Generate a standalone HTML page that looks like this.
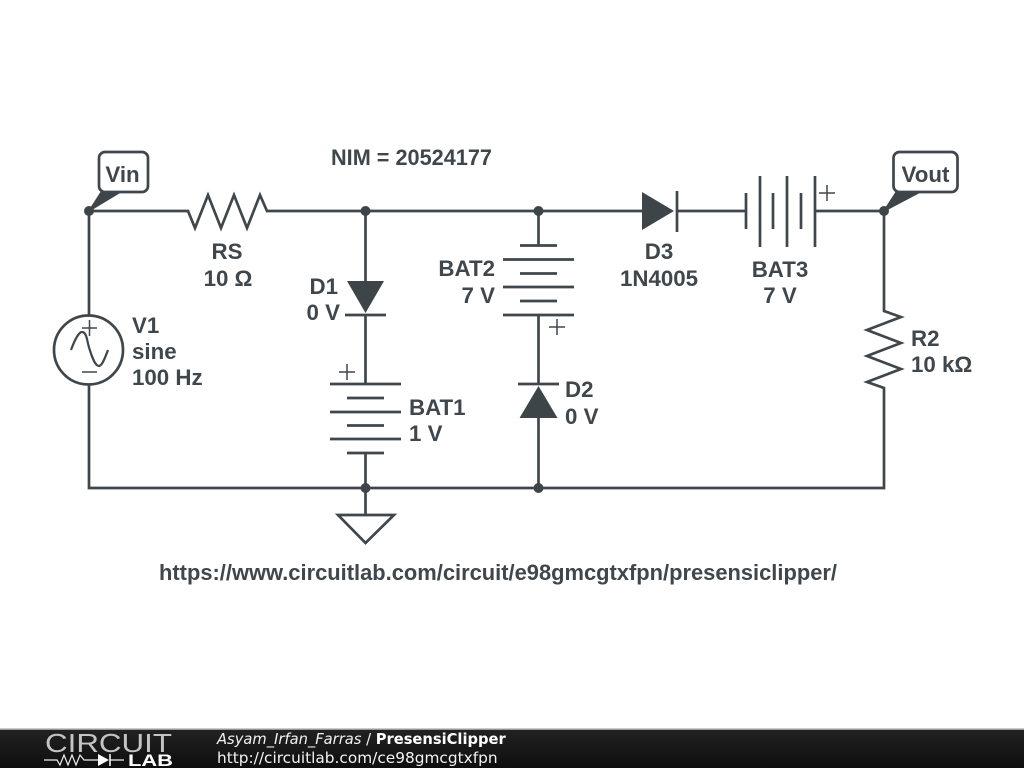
<!DOCTYPE html>
<html>
<head>
<meta charset="utf-8">
<style>
html,body{margin:0;padding:0;background:#fff;width:1024px;height:768px;overflow:hidden}
svg{display:block}
.t{font-family:"Liberation Sans",sans-serif;font-weight:bold;font-size:22.3px;fill:#3f474c}
.w{fill:none;stroke:#3f474c;stroke-width:2.7}
.p{fill:none;stroke:#3f474c;stroke-width:1.5}
.f{fill:#3d4549}
.d{font-family:"DejaVu Sans",sans-serif;font-size:14.7px;fill:#f2f2f2}
</style>
</head>
<body>
<svg width="1024" height="768" viewBox="0 0 1024 768" xmlns="http://www.w3.org/2000/svg">
<defs>
<linearGradient id="g" x1="0" y1="0" x2="0" y2="1"><stop offset="0" stop-color="#222"/><stop offset="1" stop-color="#0e0e0e"/></linearGradient>
</defs>
<rect width="1024" height="768" fill="#fff"/>

<!-- wires -->
<path class="w" d="M89 211H188L195 228 208 195 221 228 234 195 247 228 260 195 267 211H642"/>
<path class="w" d="M677 211H746M815 211H884"/>
<path class="w" d="M89 211V315M89 385V488H884V388L867 382 901 369 867 356 901 343 867 330 901 317 884 311V211"/>

<!-- V1 -->
<circle class="w" cx="88.5" cy="350" r="34.5"/>
<path class="p" d="M82 328H97M89.500 320V336M82 372H97"/>
<path d="M71 350C75 339 79 332 82 332C87 332 87 342 89.500 349C92 357 95 366 99 366C102 366 105 358 108 350" fill="none" stroke="#3f474c" stroke-width="2.2"/>

<!-- D1 + BAT1 + GND -->
<path class="w" d="M365.5 211V281M365.5 315V384M345 315H386"/>
<polygon class="f" points="347,281 384,281 365.5,313"/>
<path class="w" d="M330 384H401M347 398H384M330 412H401M347 425.500H384M330 439H401M347 453H384M365.500 453V515"/>
<path class="w" d="M338 515H394L365.500 543Z"/>
<path class="p" d="M339 372H355M347 364V380"/>

<!-- BAT2 + D2 -->
<path class="w" d="M538.500 211V245.500M520 245.500H557M503 259.500H574M520 273.500H557M503 287H574M520 301H557M503 315H574M538.500 315V384M518 384H559M538.500 418V488"/>
<polygon class="f" points="538.500,386 519.500,418 557.500,418"/>
<path class="p" d="M549 327H565M557 319V335"/>

<!-- D3 -->
<polygon class="f" points="642,192 642,230 674,211"/>
<path class="w" d="M677 191V232"/>

<!-- BAT3 -->
<path class="w" d="M746 193V229M760 176V247M773 193V229M787 176V247M801 193V229M815 176V247"/>
<path class="p" d="M819 193H835M827 185V201"/>

<!-- nodes -->
<circle class="f" cx="89" cy="211" r="5"/>
<circle class="f" cx="365.500" cy="211" r="5"/>
<circle class="f" cx="538.500" cy="211" r="5"/>
<circle class="f" cx="884" cy="211" r="5"/>
<circle class="f" cx="365.500" cy="488" r="5"/>
<circle class="f" cx="538.500" cy="488" r="5"/>

<!-- probes -->
<polygon class="f" stroke="#3d4549" stroke-width="1.500" points="89,211 102,191 122,191"/>
<rect class="w" x="99" y="152" width="49" height="40" rx="6" style="fill:#fff"/>
<polygon class="f" stroke="#3d4549" stroke-width="1.500" points="884,211 897,191 922,191"/>
<rect class="w" x="893.500" y="152" width="64" height="40" rx="6" style="fill:#fff"/>

<!-- labels -->
<text class="t" x="122.500" y="182" text-anchor="middle">Vin</text>
<text class="t" x="925.500" y="182" text-anchor="middle">Vout</text>
<text class="t" x="331" y="165" textLength="161" lengthAdjust="spacingAndGlyphs">NIM = 20524177</text>
<text class="t" x="227" y="259" text-anchor="middle">RS</text>
<text class="t" x="228" y="286" text-anchor="middle">10 Ω</text>
<text class="t" x="132" y="333">V1</text>
<text class="t" x="132" y="359">sine</text>
<text class="t" x="132" y="385">100 Hz</text>
<text class="t" x="338" y="294" text-anchor="end">D1</text>
<text class="t" x="340" y="320" text-anchor="end">0 V</text>
<text class="t" x="409" y="415">BAT1</text>
<text class="t" x="409" y="441">1 V</text>
<text class="t" x="495" y="276" text-anchor="end">BAT2</text>
<text class="t" x="495" y="303" text-anchor="end">7 V</text>
<text class="t" x="565" y="397">D2</text>
<text class="t" x="565" y="424">0 V</text>
<text class="t" x="659" y="259" text-anchor="middle">D3</text>
<text class="t" x="659" y="286" text-anchor="middle">1N4005</text>
<text class="t" x="780" y="277" text-anchor="middle">BAT3</text>
<text class="t" x="780" y="303" text-anchor="middle">7 V</text>
<text class="t" x="911" y="346">R2</text>
<text class="t" x="911" y="372">10 kΩ</text>
<text class="t" x="159" y="580" textLength="678" lengthAdjust="spacingAndGlyphs">https://www.circuitlab.com/circuit/e98gmcgtxfpn/presensiclipper/</text>

<!-- footer -->
<rect x="0" y="729" width="1024" height="39" fill="url(#g)"/>
<rect x="0" y="728.500" width="1024" height="1.500" fill="#999"/>
<text x="45" y="752" font-family="Liberation Sans,sans-serif" font-size="26" fill="#c4c4c4" textLength="127" lengthAdjust="spacingAndGlyphs">CIRCUIT</text>
<text x="128" y="766" font-family="Liberation Sans,sans-serif" font-weight="bold" font-size="16.500" fill="#fff" textLength="45" lengthAdjust="spacingAndGlyphs">LAB</text>
<path d="M44 760H57L60 765 64 755 68 765 72 755 76 765 80 755 84 760H98M110 760H124" fill="none" stroke="#eee" stroke-width="1.200"/>
<polygon points="98,754 98,766 109,760" fill="#fff"/>
<path d="M110 754V766" stroke="#fff" stroke-width="1.500"/>
<text class="d" x="217" y="744"><tspan font-style="italic">Asyam_Irfan_Farras</tspan> / <tspan font-weight="bold" fill="#fff">PresensiClipper</tspan></text>
<text class="d" x="217" y="763" style="font-size:15.350px">http://circuitlab.com/ce98gmcgtxfpn</text>
</svg>
</body>
</html>
